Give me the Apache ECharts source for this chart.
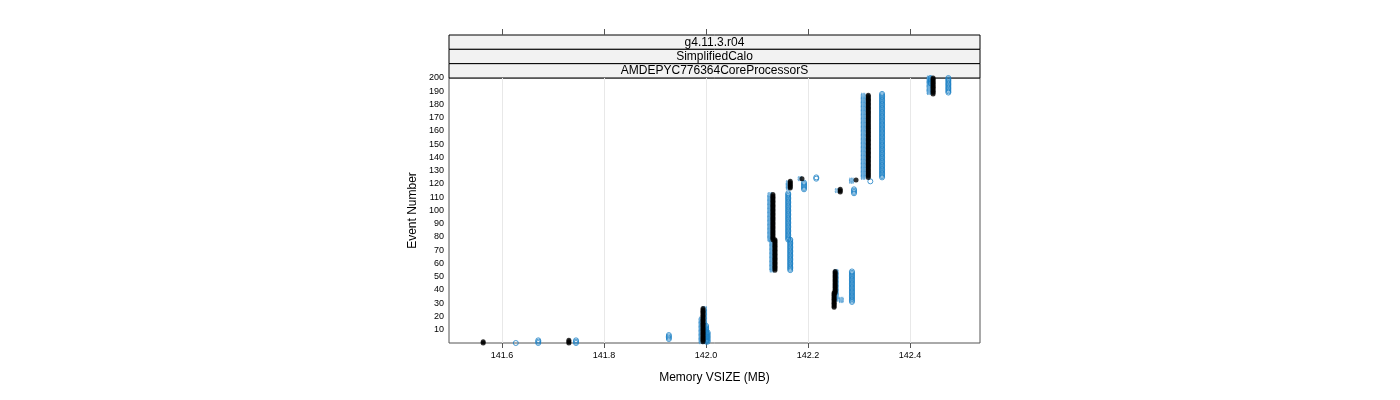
<!DOCTYPE html>
<html><head><meta charset="utf-8">
<script src="https://cdn.jsdelivr.net/npm/echarts@6/dist/echarts.min.js"></script>
<style>html,body{margin:0;padding:0;background:#fff}#c{width:1400px;height:400px}</style>
</head><body><div id="c"></div>
<script>
// runs of consecutive event numbers: [memory MB, first event, last event]
const blackRuns = [[141.563,0,1],[141.731,0,2],[141.994,1,26],[142.131,78,112],[142.135,55,78],
  [142.165,117,122],[142.188,124,124],[142.253,38,54],[142.251,27,38],[142.263,114,116],
  [142.294,123,123],[142.318,125,187],[142.445,188,200]];
const circleRuns = [[141.627,0,0],[141.671,0,2],[141.745,0,2],[141.927,3,6],[142.0,1,13],[142.003,1,8],
  [142.161,78,113],[142.165,55,78],[142.192,116,121],[142.216,124,125],[142.286,31,54],
  [142.290,113,116],[142.322,122,122],[142.345,125,188],[142.475,189,200],[142.44,196,200]];
const squareRuns = [[141.99,1,18],[141.997,5,26],[142.125,78,112],[142.129,55,78],[142.161,117,121],
  [142.184,124,124],[142.255,33,54],[142.265,32,33],[142.257,115,115],[142.285,122,123],
  [142.308,125,187],[142.437,189,200]];
const xTicks = [141.6,141.8,142.0,142.2,142.4];
const strips = ['g4.11.3.r04','SimplifiedCalo','AMDEPYC776364CoreProcessorS'];

function expand(runs){const o=[];runs.forEach(r=>{for(let e=r[1];e<=r[2];e++)o.push([r[0],e]);});return o;}

const ch = echarts.init(document.getElementById('c'));
const L=449,R=980,T=78,B=343;
const graphics = strips.map((s,i)=>({type:'group',children:[
  {type:'rect',shape:{x:L,y:35+i*14.33,width:R-L,height:14.33},style:{fill:'#f2f2f2',stroke:'#000',lineWidth:1}},
  {type:'text',x:(L+R)/2,y:35+i*14.33+7.5,style:{text:s,font:'12px "Liberation Sans",Arial',fill:'#000',align:'center',verticalAlign:'middle'}}
]}));
ch.setOption({
  animation:false,
  grid:{left:L,right:1400-R,top:T,bottom:400-B,show:true,borderColor:'#555',borderWidth:1},
  graphic:graphics,
  xAxis:[{type:'value',min:141.496,max:142.537,interval:0.2,
    name:'Memory VSIZE (MB)',nameLocation:'middle',nameGap:29,nameTextStyle:{fontSize:12,color:'#000',fontFamily:'Liberation Sans'},
    axisLine:{show:false},axisTick:{show:true,length:5,lineStyle:{color:'#555'},customValues:xTicks},
    axisLabel:{fontSize:9,color:'#000',fontFamily:'Liberation Sans',customValues:xTicks,formatter:v=>v.toFixed(1)},
    splitLine:{show:true,lineStyle:{color:'#e8e8e8'},customValues:xTicks}},
   {type:'value',position:'top',offset:43,min:141.496,max:142.537,
    axisLine:{show:false},axisTick:{show:true,length:6,inside:false,lineStyle:{color:'#555'},customValues:xTicks},
    axisLabel:{show:false},splitLine:{show:false}}],
  yAxis:{type:'value',min:0,max:200,interval:10,
    name:'Event Number',nameLocation:'middle',nameGap:30,nameTextStyle:{fontSize:12,color:'#000',fontFamily:'Liberation Sans'},
    axisLine:{show:false},axisTick:{show:false},
    axisLabel:{fontSize:9,color:'#000',fontFamily:'Liberation Sans',margin:5,formatter:v=>v===0?'':v},
    splitLine:{show:false}},
  series:[
    {type:'scatter',data:expand(squareRuns),symbol:'rect',symbolSize:4,
      itemStyle:{color:'#7fb8e0',borderColor:'#1a80c4',borderWidth:0.8,borderType:'dotted'}},
    {type:'scatter',data:expand(circleRuns),symbol:'circle',symbolSize:5,
      itemStyle:{color:'rgba(255,255,255,0)',borderColor:'#1a80c4',borderWidth:1}},
    {type:'scatter',data:expand(blackRuns),symbol:'circle',symbolSize:5,itemStyle:{color:'#000'}}
  ]
});
</script></body></html>
